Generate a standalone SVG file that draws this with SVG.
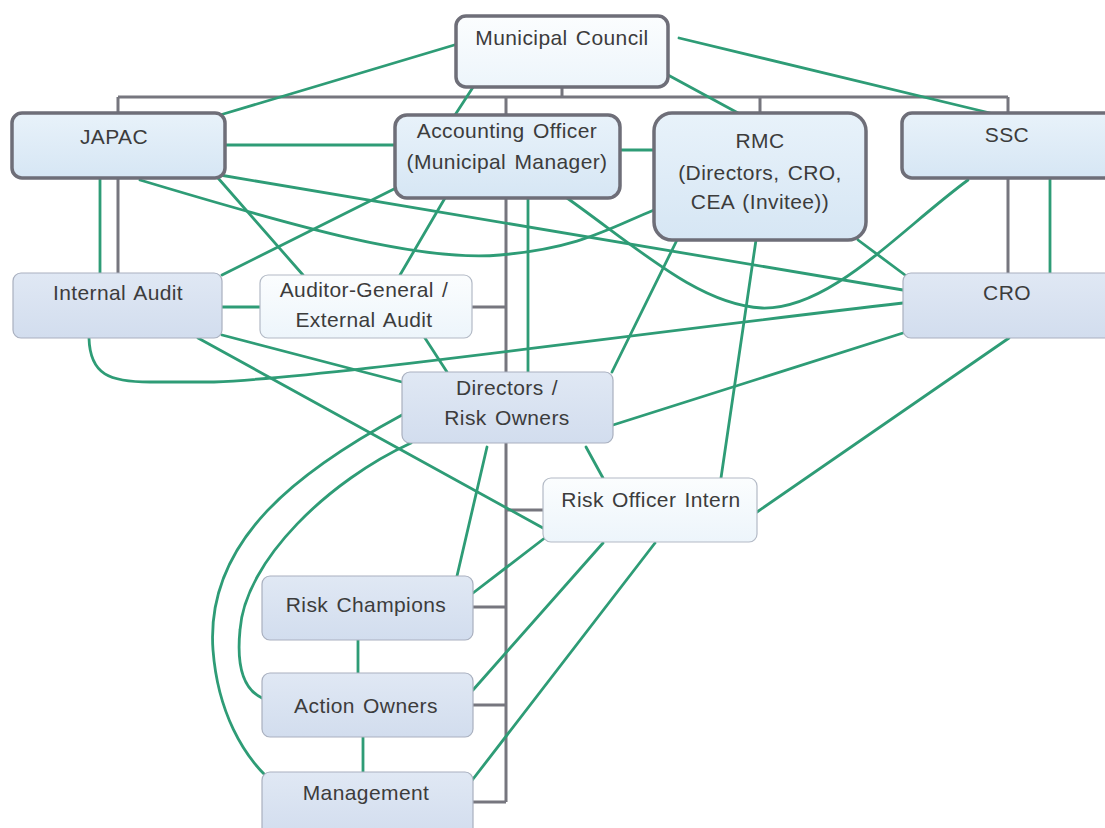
<svg xmlns="http://www.w3.org/2000/svg" width="1105" height="828" viewBox="0 0 1105 828">
<defs>
<linearGradient id="gBlue" x1="0" y1="0" x2="0" y2="1"><stop offset="0" stop-color="#e8f2fa"/><stop offset="1" stop-color="#d6e6f4"/></linearGradient>
<linearGradient id="gLav" x1="0" y1="0" x2="0" y2="1"><stop offset="0" stop-color="#e0e8f4"/><stop offset="1" stop-color="#d2ddee"/></linearGradient>
<linearGradient id="gWhite" x1="0" y1="0" x2="0" y2="1"><stop offset="0" stop-color="#fbfdfe"/><stop offset="1" stop-color="#edf5fb"/></linearGradient>
<style>
.tree{fill:none;stroke:#76767e;stroke-width:3}
.ln{fill:none;stroke:#2e9c76;stroke-width:2.8;stroke-linecap:round}
.thick{stroke:#6e6e78;stroke-width:3.5}
.thin{stroke:#a9b0bf;stroke-width:1.2}
.lt{stroke:#b3bac6;stroke-width:1.2}
text{font-family:"Liberation Sans",Arial,sans-serif;font-size:21px;fill:#3c3c3c;text-anchor:middle;word-spacing:2px;letter-spacing:0.4px}
</style>
</defs>
<rect width="1105" height="828" fill="#ffffff"/>
<g id="connectors">
<g id="tree">
<path class="tree" d="M562,87 V97 M118,97 H1008 M118,97 V113 M118,178 V273 M506,97 V115 M506,198 V802 M760,97 V113 M1008,97 V113 M1008,178 V273 M472,307 H506 M506,510 H543 M473,607 H506 M473,705 H506 M473,802 H506"/>
</g>
<g id="links">
<path class="ln" d="M461,43 L220,115"/>
<path class="ln" d="M479,78 L455,115"/>
<path class="ln" d="M668,75 L738,113"/>
<path class="ln" d="M679,38 L990,113"/>
<path class="ln" d="M225,145 H395"/>
<path class="ln" d="M620,150 H654"/>
<path class="ln" d="M220,175 L903,290"/>
<path class="ln" d="M140,180 C300,228 420,262 500,255 S610,228 654,210"/>
<path class="ln" d="M567,198 C640,250 700,305 762,308 C830,310 900,230 968,180"/>
<path class="ln" d="M100,178 V273"/>
<path class="ln" d="M222,275 L396,188"/>
<path class="ln" d="M218,178 L303,275"/>
<path class="ln" d="M445,198 L400,275"/>
<path class="ln" d="M528,198 V372"/>
<path class="ln" d="M677,240 L612,372"/>
<path class="ln" d="M756,240 L721,478"/>
<path class="ln" d="M858,240 L905,275"/>
<path class="ln" d="M1050,178 V273"/>
<path class="ln" d="M222,307 H260"/>
<path class="ln" d="M89,338 C90,375 110,382 150,382 L214,382 C330,377 600,338 903,303"/>
<path class="ln" d="M222,335 L402,382"/>
<path class="ln" d="M423,335 L447,372"/>
<path class="ln" d="M198,338 L543,528"/>
<path class="ln" d="M613,425 L903,333"/>
<path class="ln" d="M1009,338 L757,512"/>
<path class="ln" d="M586,447 L603,478"/>
<path class="ln" d="M487,447 L457,576"/>
<path class="ln" d="M546,537 L473,593"/>
<path class="ln" d="M603,543 L473,690"/>
<path class="ln" d="M655,543 L470,783"/>
<path class="ln" d="M358,640 V673"/>
<path class="ln" d="M363,737 V772"/>
<path class="ln" d="M402,415 C300,470 205,540 213,650 C218,715 245,755 265,775"/>
<path class="ln" d="M411,443 C330,480 245,560 240,630 C236,670 245,690 262,698"/>
</g>
</g>
<g id="municipal-council"><rect class="thick" x="456" y="16" width="212" height="71" rx="10" fill="url(#gWhite)"/><text x="562" y="45">Municipal Council</text></g>
<g id="japac"><rect class="thick" x="12" y="113" width="213" height="65" rx="10" fill="url(#gBlue)"/><text x="114" y="144">JAPAC</text></g>
<g id="accounting-officer"><rect class="thick" x="395" y="115" width="225" height="83" rx="12" fill="url(#gBlue)"/><text x="507" y="138">Accounting Officer</text><text x="507" y="169">(Municipal Manager)</text></g>
<g id="rmc"><rect class="thick" x="654" y="113" width="212" height="127" rx="18" fill="url(#gBlue)"/><text x="760" y="148">RMC</text><text x="760" y="180">(Directors, CRO,</text><text x="760" y="209">CEA (Invitee))</text></g>
<g id="ssc"><rect class="thick" x="902" y="113" width="212" height="65" rx="10" fill="url(#gBlue)"/><text x="1007" y="142">SSC</text></g>
<g id="internal-audit"><rect class="thin" x="13" y="273" width="209" height="65" rx="8" fill="url(#gLav)"/><text x="118" y="300">Internal Audit</text></g>
<g id="auditor-general"><rect class="lt" x="260" y="275" width="212" height="63" rx="8" fill="url(#gWhite)"/><text x="364" y="297">Auditor-General /</text><text x="364" y="327">External Audit</text></g>
<g id="cro"><rect class="thin" x="903" y="273" width="212" height="65" rx="8" fill="url(#gLav)"/><text x="1007" y="300">CRO</text></g>
<g id="directors"><rect class="thin" x="402" y="372" width="211" height="71" rx="8" fill="url(#gLav)"/><text x="507" y="395">Directors /</text><text x="507" y="425">Risk Owners</text></g>
<g id="risk-officer-intern"><rect class="lt" x="543" y="478" width="214" height="64" rx="8" fill="url(#gWhite)"/><text x="651" y="507">Risk Officer Intern</text></g>
<g id="risk-champions"><rect class="thin" x="262" y="576" width="211" height="64" rx="8" fill="url(#gLav)"/><text x="366" y="612">Risk Champions</text></g>
<g id="action-owners"><rect class="thin" x="262" y="673" width="211" height="64" rx="8" fill="url(#gLav)"/><text x="366" y="713">Action Owners</text></g>
<g id="management"><rect class="thin" x="262" y="772" width="211" height="64" rx="8" fill="url(#gLav)"/><text x="366" y="800">Management</text></g>
</svg>
